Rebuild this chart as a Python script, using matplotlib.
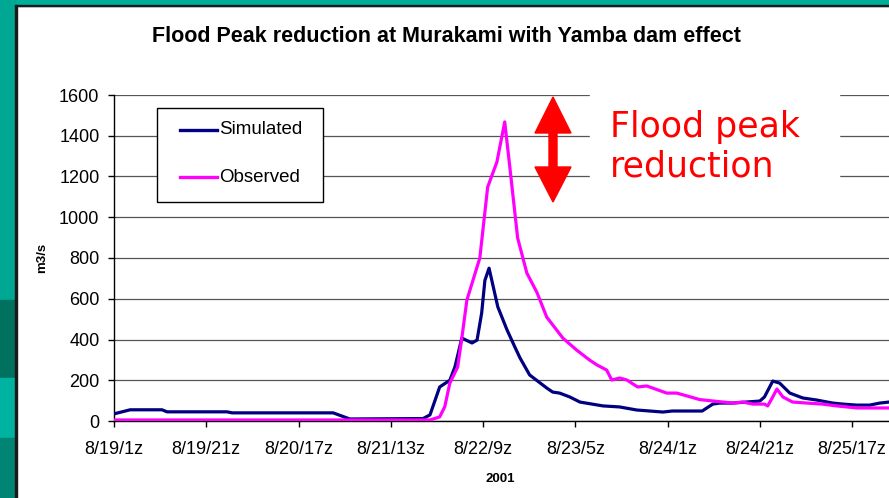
import matplotlib
matplotlib.use("Agg")
import matplotlib.pyplot as plt
from matplotlib.patches import Rectangle, Polygon
from matplotlib.lines import Line2D

# ----------------------------------------------------------------------
# Data (hours since 8/19 01z, discharge in m3/s)
# ----------------------------------------------------------------------
tick_hours = [0, 20, 40, 60, 80, 100, 120, 140, 160]
tick_labels = ["8/19/1z", "8/19/21z", "8/20/17z", "8/21/13z", "8/22/9z",
               "8/23/5z", "8/24/1z", "8/24/21z", "8/25/17z"]

sim_hours = [0, 3.5, 10.4, 11.5, 24.5, 25.6, 47.5, 51.1, 67, 68.5, 70.6,
             72.8, 73.9, 75.4, 77.6, 78.7, 79.7, 80.4, 81.3, 83.2, 85.2,
             86.9, 88, 90.1, 93.8, 95.1, 96.6, 98.8, 101, 106, 109.6, 113.3,
             119, 121, 127.5, 129.8, 131.3, 134.1, 140, 141, 142.8, 144.3,
             146.5, 149.3, 152.3, 155.8, 158, 161, 163.8, 166, 168]
sim_flow = [35, 55, 55, 45, 45, 40, 40, 10, 12, 30, 167,
            200, 265, 407, 383, 397, 530, 690, 750, 560, 447,
            363, 310, 226, 162, 142, 137, 118, 93, 74, 69, 54,
            44, 49, 49, 83, 88, 88, 98, 118, 196, 186,
            137, 113, 103, 88, 83, 78, 78, 88, 93]

obs_hours = [0, 68, 68.5, 70.6, 71.7, 72.8, 74.5, 75.4, 76.5, 79.3, 81,
             83, 84.7, 85.8, 87.5, 89.5, 91.7, 93.8, 97.3, 100.3, 103.1,
             104.7, 106.8, 107.9, 109.6, 111.2, 113.5, 115.5, 119.8, 122,
             124.2, 127, 134.1, 136.3, 138.5, 141, 141.7, 142.8, 143.7, 145,
             147.1, 150.2, 153.6, 156.7, 161, 168]
obs_flow = [5, 5, 5, 20, 70, 186, 265, 407, 594, 800, 1148,
            1271, 1468, 1247, 898, 726, 630, 510, 407, 348, 299,
            275, 250, 201, 211, 201, 167, 172, 137, 137,
            123, 105, 88, 93, 83, 83, 74, 118, 157, 118,
            93, 88, 83, 74, 64, 64]

series_names = ["Simulated", "Observed"]
series_colors = ["#000080", "#ff00ff"]

W, H = 889, 498


def px(x, y):
    """Pixel position (origin top-left) -> figure fraction."""
    return x / W, 1 - y / H


plt.rcParams["font.family"] = ["Liberation Sans", "DejaVu Sans"]

fig = plt.figure(figsize=(W / 100, H / 100), dpi=100)
fig.patch.set_facecolor("white")

# slide background strips (teal) around the white chart panel
bg = [
    (0, 0, W, 6, "#00ae9c"),
    (0, 0, 15, 300, "#00a893"),
    (0, 300, 15, 78, "#00705f"),
    (0, 378, 15, 60, "#00b3a0"),
    (0, 438, 15, 60, "#008474"),
]
for bx, by, bw, bh, c in bg:
    fig.patches.append(Rectangle(px(bx, by + bh), bw / W, bh / H,
                                 transform=fig.transFigure, color=c,
                                 zorder=-2))
fig.patches.append(Rectangle(px(15, H), 1.5 / W, (H - 5) / H,
                             transform=fig.transFigure, color="#1a1a1a",
                             zorder=-1))
fig.patches.append(Rectangle(px(15, 6.5), (W - 15) / W, 1.5 / H,
                             transform=fig.transFigure, color="#1a1a1a",
                             zorder=-1))

# plot area
x0, y0 = px(114, 421)
ax = fig.add_axes([x0, y0, (W - 114) / W, 326 / H])
ax.set_facecolor("none")

ax.plot(sim_hours, sim_flow, color=series_colors[0], lw=2.3,
        solid_joinstyle="round", zorder=3)
ax.plot(obs_hours, obs_flow, color=series_colors[1], lw=2.3,
        solid_joinstyle="round", zorder=3)

ax.set_xlim(0, 168)
ax.set_ylim(0, 1600)
ax.set_yticks(range(0, 1601, 200))
ax.set_xticks(tick_hours)
ax.set_xticklabels(tick_labels)
ax.yaxis.grid(True, color="#555555", lw=0.9)
ax.set_axisbelow(True)
for side in ["top", "right"]:
    ax.spines[side].set_visible(False)
for side in ["left", "bottom"]:
    ax.spines[side].set_color("black")
    ax.spines[side].set_linewidth(1.0)
ax.tick_params(axis="both", direction="out", length=4.5, width=1.0,
               labelsize=13, colors="black")
ax.tick_params(axis="x", pad=10)
ax.tick_params(axis="y", pad=6)

# legend box (Excel style: square frame, short thick handles)
fig.patches.append(Rectangle(px(157, 202), (323 - 157) / W, (202 - 108) / H,
                             transform=fig.transFigure, facecolor="white",
                             edgecolor="black", lw=1.0, zorder=2))
for name, col, ly in zip(series_names, series_colors, [130, 177]):
    fig.lines.append(Line2D([180 / W, 217 / W], [1 - ly / H, 1 - ly / H],
                            transform=fig.transFigure, color=col, lw=2.4,
                            zorder=3))
    fig.text(*px(219, ly), name, ha="left", va="center", fontsize=13.5,
             zorder=3)

# titles
fig.text(*px(446, 37), "Flood Peak reduction at Murakami with Yamba dam effect",
         ha="center", va="center", fontsize=15.5, fontweight="bold")
fig.text(*px(42, 258), "m3/s", ha="center", va="center", rotation=90,
         fontsize=9.5, fontweight="bold")
fig.text(*px(500, 479), "2001", ha="center", va="center", fontsize=9.5,
         fontweight="bold")

# annotation: white box, double arrow, red text
fig.patches.append(Rectangle(px(590, 205), (839 - 590) / W, (205 - 88) / H,
                             transform=fig.transFigure, color="white",
                             zorder=2))
arrow_pts = [(553, 97), (571, 133), (557, 133), (557, 167), (571, 167),
             (553, 202), (535, 167), (549, 167), (549, 133), (535, 133)]
fig.patches.append(Polygon([px(a, b) for a, b in arrow_pts], closed=True,
                           transform=fig.transFigure, color="#ff0000",
                           zorder=4))
fig.text(*px(610, 147), "Flood peak\nreduction", ha="left", va="center",
         fontsize=25, color="#ff0000", family="DejaVu Sans",
         linespacing=1.2, zorder=5)

fig.savefig("out.png", dpi=100)
